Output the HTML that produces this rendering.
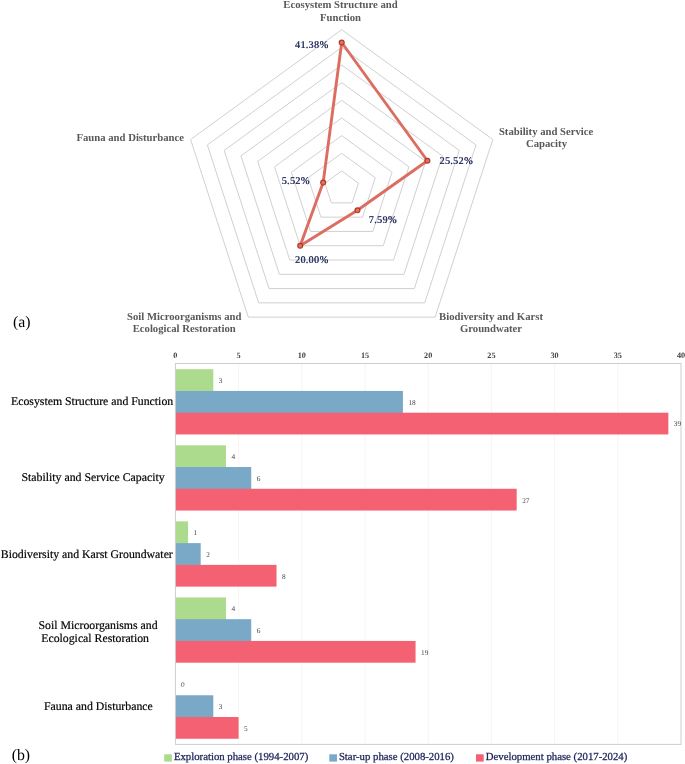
<!DOCTYPE html>
<html><head><meta charset="utf-8"><title>Chart</title>
<style>
html,body{margin:0;padding:0;background:#fff;}
body{width:685px;height:764px;overflow:hidden;font-family:"Liberation Serif",serif;}
svg{display:block;will-change:transform;}
text{font-family:"Liberation Serif",serif;text-rendering:geometricPrecision;}
.cat{font-weight:bold;font-size:10.7px;fill:#595959;}
.dl{font-size:10.4px;fill:#1c2458;letter-spacing:0.2px;}
.dlb{font-weight:bold;font-size:10.4px;fill:#1c2458;fill-opacity:0.55;letter-spacing:0.2px;}
.hid{fill-opacity:0;}
.ax{font-weight:bold;font-size:8.2px;fill:#444;}
.bl{font-size:11.8px;fill:#000;stroke:#000;stroke-width:0.18px;}
.vl{font-size:7.3px;fill:#444;}
.lg{font-size:10.75px;fill:#1c2458;stroke:#1c2458;stroke-width:0.28px;}
.ab{font-size:15.8px;fill:#000;}
</style></head><body>
<svg width="685" height="764" viewBox="0 0 685 764">
<rect width="685" height="764" fill="#fff"/>

<g fill="none" stroke="#cbcbcb" stroke-width="0.9">
<polygon points="341.70,170.94 358.49,183.14 352.08,202.88 331.32,202.88 324.91,183.14"/>
<polygon points="341.70,153.29 375.28,177.69 362.46,217.17 320.94,217.17 308.12,177.69"/>
<polygon points="341.70,135.63 392.07,172.23 372.83,231.45 310.57,231.45 291.33,172.23"/>
<polygon points="341.70,117.98 408.87,166.78 383.21,245.73 300.19,245.73 274.53,166.78"/>
<polygon points="341.70,100.32 425.66,161.32 393.59,260.02 289.81,260.02 257.74,161.32"/>
<polygon points="341.70,82.67 442.45,155.86 403.97,274.30 279.43,274.30 240.95,155.86"/>
<polygon points="341.70,65.01 459.24,150.41 414.34,288.59 269.06,288.59 224.16,150.41"/>
<polygon points="341.70,47.36 476.03,144.95 424.72,302.87 258.68,302.87 207.37,144.95"/>
<polygon points="341.70,29.70 492.82,139.50 435.10,317.15 248.30,317.15 190.58,139.50"/>
</g>
<polygon fill="none" stroke="#dc6d61" stroke-width="2.9" stroke-linejoin="round" points="341.70,42.48 427.40,160.75 357.45,210.28 300.19,245.73 323.16,182.58"/>
<circle cx="341.70" cy="42.48" r="2.45" fill="#d8775c" stroke="#b5382e" stroke-width="1.2"/>
<circle cx="427.40" cy="160.75" r="2.45" fill="#d8775c" stroke="#b5382e" stroke-width="1.2"/>
<circle cx="357.45" cy="210.28" r="2.45" fill="#d8775c" stroke="#b5382e" stroke-width="1.2"/>
<circle cx="300.19" cy="245.73" r="2.45" fill="#d8775c" stroke="#b5382e" stroke-width="1.2"/>
<circle cx="323.16" cy="182.58" r="2.45" fill="#d8775c" stroke="#b5382e" stroke-width="1.2"/>
<text class="cat" x="340.5" y="8.2" text-anchor="middle">Ecosystem Structure and</text>
<text class="cat" x="340.5" y="20.7" text-anchor="middle">Function</text>
<text class="cat" x="546.1" y="134.5" text-anchor="middle">Stability and Service</text>
<text class="cat" x="546.5" y="146.9" text-anchor="middle">Capacity</text>
<text class="cat" x="491" y="320.1" text-anchor="middle">Biodiversity and Karst</text>
<text class="cat" x="491" y="331.9" text-anchor="middle">Groundwater</text>
<text class="cat" x="184.2" y="320.0" text-anchor="middle">Soil Microorganisms and</text>
<text class="cat" x="184.2" y="331.9" text-anchor="middle">Ecological Restoration</text>
<text class="cat" x="76.5" y="140.7" text-anchor="start">Fauna and Disturbance</text>
<text class="dl" x="295.0" y="48.4" text-anchor="start">41.38%</text>
<text class="dlb" x="295.0" y="48.4" text-anchor="start">41.38</text>
<text class="dl" x="295.35" y="48.4" text-anchor="start"><tspan class="hid">41.38</tspan>%</text>
<text class="dl" x="439.5" y="163.6" text-anchor="start">25.52%</text>
<text class="dlb" x="439.5" y="163.6" text-anchor="start">25.52</text>
<text class="dl" x="439.85" y="163.6" text-anchor="start"><tspan class="hid">25.52</tspan>%</text>
<text class="dl" x="368.8" y="222.8" text-anchor="start">7.59%</text>
<text class="dlb" x="368.8" y="222.8" text-anchor="start">7.59</text>
<text class="dl" x="369.15000000000003" y="222.8" text-anchor="start"><tspan class="hid">7.59</tspan>%</text>
<text class="dl" x="295.0" y="262.6" text-anchor="start">20.00%</text>
<text class="dlb" x="295.0" y="262.6" text-anchor="start">20.00</text>
<text class="dl" x="295.35" y="262.6" text-anchor="start"><tspan class="hid">20.00</tspan>%</text>
<text class="dl" x="281.7" y="184.3" text-anchor="start">5.52%</text>
<text class="dlb" x="281.7" y="184.3" text-anchor="start">5.52</text>
<text class="dl" x="282.05" y="184.3" text-anchor="start"><tspan class="hid">5.52</tspan>%</text>
<text class="ab" x="13.1" y="326.5" text-anchor="start">(a)</text>
<text class="ab" x="11.7" y="760.1" text-anchor="start">(b)</text>
<g stroke="#f1f1f1" stroke-width="0.8">
<line x1="238.60" y1="363.5" x2="238.60" y2="744.4"/>
<line x1="301.80" y1="363.5" x2="301.80" y2="744.4"/>
<line x1="365.00" y1="363.5" x2="365.00" y2="744.4"/>
<line x1="428.20" y1="363.5" x2="428.20" y2="744.4"/>
<line x1="491.40" y1="363.5" x2="491.40" y2="744.4"/>
<line x1="554.60" y1="363.5" x2="554.60" y2="744.4"/>
<line x1="617.80" y1="363.5" x2="617.80" y2="744.4"/>
</g>
<rect x="175.4" y="363.5" width="505.60" height="380.9" fill="none" stroke="#cecece" stroke-width="1"/>
<text class="ax" x="175.40" y="357.9" text-anchor="middle">0</text>
<text class="ax" x="238.60" y="357.9" text-anchor="middle">5</text>
<text class="ax" x="301.80" y="357.9" text-anchor="middle">10</text>
<text class="ax" x="365.00" y="357.9" text-anchor="middle">15</text>
<text class="ax" x="428.20" y="357.9" text-anchor="middle">20</text>
<text class="ax" x="491.40" y="357.9" text-anchor="middle">25</text>
<text class="ax" x="554.60" y="357.9" text-anchor="middle">30</text>
<text class="ax" x="617.80" y="357.9" text-anchor="middle">35</text>
<text class="ax" x="681.00" y="357.9" text-anchor="middle">40</text>
<rect x="175.9" y="369.20" width="37.42" height="22.55" fill="#addb8e"/>
<text class="vl" x="218.82" y="382.97" text-anchor="start">3</text>
<rect x="175.9" y="390.95" width="227.02" height="22.55" fill="#7aa8c7"/>
<text class="vl" x="408.42" y="404.72" text-anchor="start">18</text>
<rect x="175.9" y="412.70" width="492.46" height="21.75" fill="#f36173"/>
<text class="vl" x="673.86" y="426.47" text-anchor="start">39</text>
<rect x="175.9" y="445.28" width="50.06" height="22.55" fill="#addb8e"/>
<text class="vl" x="231.46" y="459.05" text-anchor="start">4</text>
<rect x="175.9" y="467.03" width="75.34" height="22.55" fill="#7aa8c7"/>
<text class="vl" x="256.74" y="480.80" text-anchor="start">6</text>
<rect x="175.9" y="488.78" width="340.78" height="21.75" fill="#f36173"/>
<text class="vl" x="522.18" y="502.55" text-anchor="start">27</text>
<rect x="175.9" y="521.36" width="12.14" height="22.55" fill="#addb8e"/>
<text class="vl" x="193.54" y="535.13" text-anchor="start">1</text>
<rect x="175.9" y="543.11" width="24.78" height="22.55" fill="#7aa8c7"/>
<text class="vl" x="206.18" y="556.88" text-anchor="start">2</text>
<rect x="175.9" y="564.86" width="100.62" height="21.75" fill="#f36173"/>
<text class="vl" x="282.02" y="578.63" text-anchor="start">8</text>
<rect x="175.9" y="597.44" width="50.06" height="22.55" fill="#addb8e"/>
<text class="vl" x="231.46" y="611.22" text-anchor="start">4</text>
<rect x="175.9" y="619.19" width="75.34" height="22.55" fill="#7aa8c7"/>
<text class="vl" x="256.74" y="632.97" text-anchor="start">6</text>
<rect x="175.9" y="640.94" width="239.66" height="21.75" fill="#f36173"/>
<text class="vl" x="421.06" y="654.72" text-anchor="start">19</text>
<text class="vl" x="180.90" y="687.29" text-anchor="start">0</text>
<rect x="175.9" y="695.27" width="37.42" height="22.55" fill="#7aa8c7"/>
<text class="vl" x="218.82" y="709.04" text-anchor="start">3</text>
<rect x="175.9" y="717.02" width="62.70" height="21.75" fill="#f36173"/>
<text class="vl" x="244.10" y="730.79" text-anchor="start">5</text>
<text class="bl" x="11.0" y="405.1" text-anchor="start">Ecosystem Structure and Function</text>
<text class="bl" x="21.5" y="481.3" text-anchor="start">Stability and Service Capacity</text>
<text class="bl" x="0.8" y="557.8" text-anchor="start">Biodiversity and Karst Groundwater</text>
<text class="bl" x="38.5" y="628.6" text-anchor="start">Soil Microorganisms and</text>
<text class="bl" x="41.2" y="641.6" text-anchor="start">Ecological Restoration</text>
<text class="bl" x="44" y="710.3" text-anchor="start">Fauna and Disturbance</text>
<rect x="164.2" y="754.3" width="7.7" height="7.3" fill="#addb8e"/>
<text class="lg" x="173.9" y="760.3" text-anchor="start">Exploration phase (1994-2007)</text>
<rect x="329.3" y="754.3" width="7.7" height="7.3" fill="#7aa8c7"/>
<text class="lg" x="338.9" y="760.3" text-anchor="start">Star-up phase (2008-2016)</text>
<rect x="476" y="754.3" width="7.7" height="7.3" fill="#f36173"/>
<text class="lg" x="485.8" y="760.3" text-anchor="start">Development phase (2017-2024)</text>
</svg></body></html>
